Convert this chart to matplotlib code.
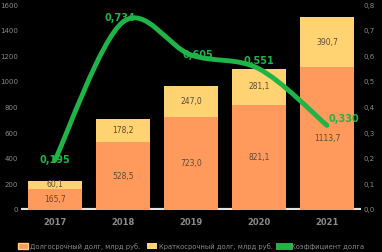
import matplotlib
matplotlib.use("Agg")
import matplotlib.pyplot as plt
import numpy as np
from matplotlib.path import Path
from matplotlib.patches import PathPatch, Patch
from matplotlib.lines import Line2D

# data
years = ["2017", "2018", "2019", "2020", "2021"]
lower = [165.7, 528.5, 723.0, 821.1, 1113.7]
upper = [60.1, 178.2, 247.0, 281.1, 390.7]
ratio = [0.195, 0.734, 0.605, 0.551, 0.330]
ratio_labels = ["0,195", "0,734", "0,605", "0,551", "0,330"]
names = ["Долгосрочный долг, млрд руб.",
         "Краткосрочный долг, млрд руб.",
         "Коэффициент долга"]

ORANGE = "#ff9a5c"
YELLOW = "#ffd272"
GREEN = "#1fb447"
GRAY = "#8a8a8a"

fig = plt.figure(figsize=(3.82, 2.52), dpi=100, facecolor="black")
ax = fig.add_axes([0.055, 0.167, 0.89, 0.813], facecolor="black")
ax2 = ax.twinx()

x = np.arange(len(years))
ax.bar(x, lower, width=0.8, color=ORANGE, zorder=2)
ax.bar(x, upper, width=0.8, bottom=lower, color=YELLOW, zorder=2)
for xi, lo, up in zip(x, lower, upper):
    ax.text(xi, lo / 2, f"{lo:.1f}".replace(".", ","), ha="center", va="center",
            fontsize=5.5, color="#5a4a3a", zorder=3)
    ax.text(xi, lo + up / 2, f"{up:.1f}".replace(".", ","), ha="center", va="center",
            fontsize=5.5, color="#5a4a3a", zorder=3)
ax.axhline(0, color="#e2e2e2", lw=3, zorder=1)

ax.set_xlim(-0.5, len(years) - 0.5)
ax.set_ylim(0, 1600)
ax.set_yticks(np.arange(0, 1601, 200))
ax.set_xticks(x)
ax.set_xticklabels(years, fontsize=6, color=GRAY, fontweight="bold")
ax.tick_params(axis="y", labelsize=5, colors=GRAY, length=0, pad=2)
ax.tick_params(axis="x", length=0, pad=6)

# smooth line through the points (Catmull-Rom as cubic Bezier)
pts = np.column_stack([x, ratio])
verts = [pts[0]]
codes = [Path.MOVETO]
for i in range(len(pts) - 1):
    p0 = pts[max(i - 1, 0)]
    p1, p2 = pts[i], pts[i + 1]
    p3 = pts[min(i + 2, len(pts) - 1)]
    verts += [p1 + (p2 - p0) / 6, p2 - (p3 - p1) / 6, p2]
    codes += [Path.CURVE4] * 3
ax2.add_patch(PathPatch(Path(verts, codes), fill=False, edgecolor=GREEN, lw=3.5,
                        capstyle="round", zorder=4))
ax2.set_ylim(0, 0.8)
ax2.set_yticks(np.arange(0, 0.81, 0.1))
ax2.set_yticklabels([f"{v:.1f}".replace(".", ",") for v in np.arange(0, 0.81, 0.1)])
ax2.tick_params(axis="y", labelsize=5, colors=GRAY, length=0, pad=2)

offs = [(0, 0), (-0.05, 0.015), (0.1, 0.0), (0, 0.03), (0.25, 0.025)]
for xi, v, lab, (dx, dy) in zip(x, ratio, ratio_labels, offs):
    ax2.text(xi + dx, v + dy, lab, ha="center", va="center", fontsize=7,
             fontweight="bold", color=GREEN, zorder=5)

for a in (ax, ax2):
    for s in a.spines.values():
        s.set_visible(False)

handles = [Patch(facecolor=ORANGE, edgecolor=YELLOW), Patch(facecolor=YELLOW),
           Line2D([], [], color=GREEN, lw=5)]
fig.legend(handles, names, loc="lower center", bbox_to_anchor=(0.5, -0.015), ncol=3,
           frameon=False, fontsize=4.9, labelcolor=GRAY, handlelength=1.5,
           handleheight=1.0, handletextpad=0.3, columnspacing=0.9)

fig.savefig("out.png", dpi=100, facecolor="black")
